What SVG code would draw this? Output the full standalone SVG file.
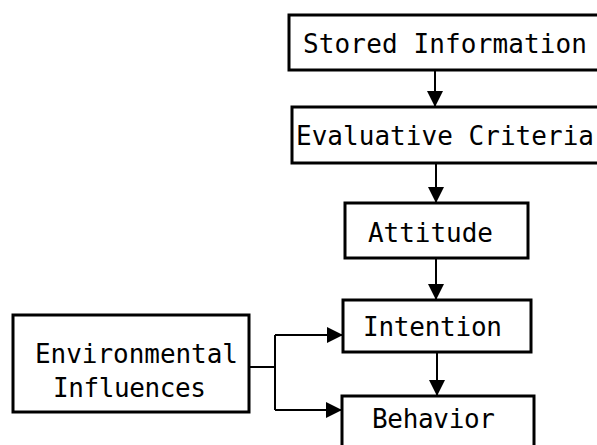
<svg xmlns="http://www.w3.org/2000/svg" width="597" height="445" viewBox="0 0 597 445">
  <style>
    .box { fill: #fff; stroke: #000; stroke-width: 3; }
    .lbl { font-family: "DejaVu Sans Mono", "Liberation Mono", monospace; font-size: 26px; fill: #000; }
    .wire { fill: none; stroke: #000; stroke-width: 2; }
  </style>
  <defs>
    <marker id="head" viewBox="0 0 16 16" refX="16" refY="8" markerWidth="16" markerHeight="16" markerUnits="userSpaceOnUse" orient="auto">
      <path d="M0,0 L16,8 L0,16 Z" fill="#000"/>
    </marker>
  </defs>
  <rect width="597" height="445" fill="#fff"/>

  <g id="connectors">
    <line class="wire" x1="435" y1="70" x2="435" y2="107" marker-end="url(#head)"/>
    <line class="wire" x1="436" y1="163" x2="436" y2="203" marker-end="url(#head)"/>
    <line class="wire" x1="436" y1="258" x2="436" y2="300" marker-end="url(#head)"/>
    <line class="wire" x1="437" y1="352" x2="437" y2="396" marker-end="url(#head)"/>
    <path class="wire" d="M249,367 H275"/>
    <path class="wire" d="M275,335 V410"/>
    <path class="wire" d="M275,335 H343" marker-end="url(#head)"/>
    <path class="wire" d="M275,410 H342" marker-end="url(#head)"/>
  </g>

  <g id="stored-information">
    <rect class="box" x="289" y="15" width="320" height="55"/>
    <text class="lbl" x="303" y="53" textLength="284">Stored Information</text>
  </g>

  <g id="evaluative-criteria">
    <rect class="box" x="292" y="107" width="320" height="56"/>
    <text class="lbl" x="296" y="145" textLength="298">Evaluative Criteria</text>
  </g>

  <g id="attitude">
    <rect class="box" x="345" y="203" width="183" height="55"/>
    <text class="lbl" x="368" y="242" textLength="125">Attitude</text>
  </g>

  <g id="intention">
    <rect class="box" x="343" y="300" width="188" height="52"/>
    <text class="lbl" x="363" y="336" textLength="139">Intention</text>
  </g>

  <g id="behavior">
    <rect class="box" x="342" y="396" width="192" height="60"/>
    <text class="lbl" x="372" y="428" textLength="123">Behavior</text>
  </g>

  <g id="environmental-influences">
    <rect class="box" x="13" y="315" width="236" height="97"/>
    <text class="lbl" x="35" y="363" textLength="203">Environmental</text>
    <text class="lbl" x="53" y="397" textLength="153">Influences</text>
  </g>
</svg>
